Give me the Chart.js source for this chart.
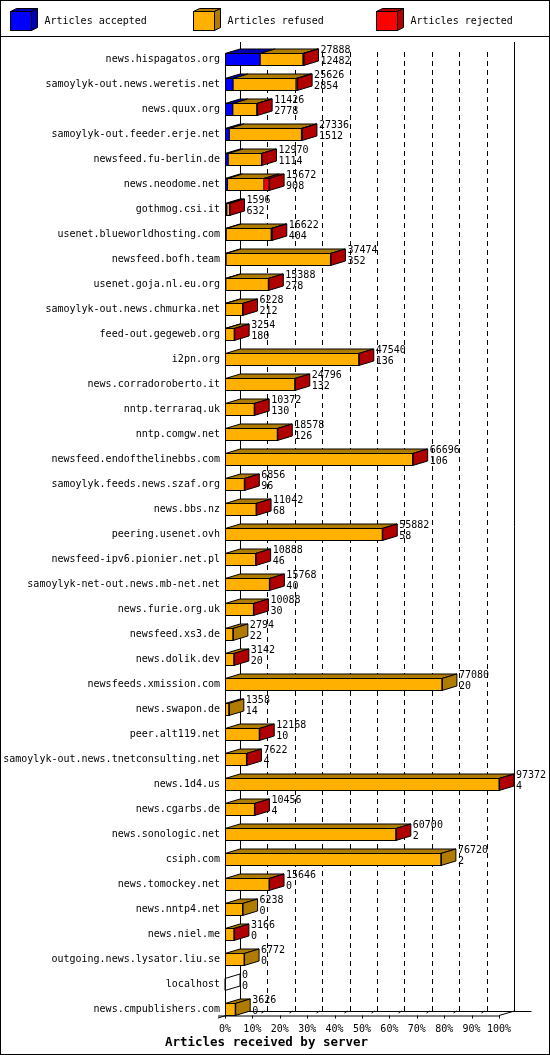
<!DOCTYPE html>
<html>
<head>
<meta charset="utf-8">
<title>Articles received by server</title>
<script src="https://cdn.jsdelivr.net/npm/chart.js@4/dist/chart.umd.min.js"></script>
<style>
  html, body { margin: 0; padding: 0; background: #fff; }
  canvas { display: block; }
</style>
</head>
<body>
<canvas id="chart" width="550" height="1055"></canvas>
<script>
// values; rejected is mostly too thin to see, so estimated
const servers = [
    'news.hispagatos.org', 'samoylyk-out.news.weretis.net', 'news.quux.org',
    'samoylyk-out.feeder.erje.net', 'newsfeed.fu-berlin.de', 'news.neodome.net',
    'gothmog.csi.it', 'usenet.blueworldhosting.com', 'newsfeed.bofh.team',
    'usenet.goja.nl.eu.org', 'samoylyk-out.news.chmurka.net', 'feed-out.gegeweb.org',
    'i2pn.org', 'news.corradoroberto.it', 'nntp.terraraq.uk', 'nntp.comgw.net',
    'newsfeed.endofthelinebbs.com', 'samoylyk.feeds.news.szaf.org', 'news.bbs.nz',
    'peering.usenet.ovh', 'newsfeed-ipv6.pionier.net.pl', 'samoylyk-net-out.news.mb-net.net',
    'news.furie.org.uk', 'newsfeed.xs3.de', 'news.dolik.dev', 'newsfeeds.xmission.com',
    'news.swapon.de', 'peer.alt119.net', 'samoylyk-out.news.tnetconsulting.net',
    'news.1d4.us', 'news.cgarbs.de', 'news.sonologic.net', 'csiph.com',
    'news.tomockey.net', 'news.nntp4.net', 'news.niel.me', 'outgoing.news.lysator.liu.se',
    'localhost', 'news.cmpublishers.com'
];
const accepted = [
    12482, 2854, 2778, 1512, 1114, 908, 632, 404, 352, 278, 212, 180, 136, 132, 130, 126,
    106, 96, 68, 58, 46, 40, 30, 22, 20, 20, 14, 10, 4, 4, 4, 2, 2, 0, 0, 0, 0, 0, 0
];
const refused = [
    15196, 22352, 8498, 25644, 11736, 12904, 904, 15978, 36982, 15020, 5956, 3034,
    47284, 24584, 10192, 18382, 66490, 6730, 10934, 55734, 10812, 15688, 10038, 2772,
    3092, 77060, 1344, 12138, 7608, 97308, 10432, 60668, 76718, 15626, 6238, 3156,
    6772, 0, 3626
];
const rejected = [
    210, 420, 150, 180, 120, 1860, 60, 240, 140, 90, 60, 40, 120, 80, 50, 70, 100, 30,
    40, 90, 30, 40, 20, 0, 30, 0, 0, 20, 10, 60, 20, 30, 0, 20, 0, 10, 0, 0, 0
];
const seriesNames = ['Articles accepted', 'Articles refused', 'Articles rejected'];
const frontColors = ['#0000ff', '#ffb000', '#ff0000'];
const darkColors = ['#0000b0', '#b07c00', '#b00000'];
const axisTitle = 'Articles received by server';

const series = [accepted, refused, rejected];
const totals = servers.map((s, i) => accepted[i] + refused[i] + rejected[i]);
const maxTotal = Math.max(...totals);

const DX = 15;      // depth of the 3d boxes
const DY = -4.5;
const MONO = '"DejaVu Sans Mono", "Liberation Mono", monospace';

function poly(ctx, pts, fill) {
    ctx.beginPath();
    ctx.moveTo(pts[0][0], pts[0][1]);
    for (let k = 1; k < pts.length; k++) ctx.lineTo(pts[k][0], pts[k][1]);
    ctx.closePath();
    if (fill) {
        ctx.fillStyle = fill;
        ctx.fill();
    }
    ctx.stroke();
}

function line(ctx, x1, y1, x2, y2) {
    ctx.beginPath();
    ctx.moveTo(x1, y1);
    ctx.lineTo(x2, y2);
    ctx.stroke();
}

const box3d = {
    id: 'box3d',
    beforeDraw(chart) {
        const ctx = chart.ctx;
        ctx.save();
        ctx.fillStyle = '#fff';
        ctx.fillRect(0, 0, chart.width, chart.height);
        ctx.restore();
    },
    beforeDatasetsDraw(chart) {
        // back wall, left wall and floor
        const { ctx, scales: { x, y } } = chart;
        const half = 6;
        const firstTop = y.getPixelForValue(0) - half;
        const floorF = y.getPixelForValue(servers.length - 1) + half;
        const floorB = floorF + DY;
        const wallTop = 42;
        const x0 = x.getPixelForValue(0);
        const x100 = x.getPixelForValue(maxTotal);

        ctx.save();
        ctx.strokeStyle = '#000';
        ctx.lineWidth = 1;

        ctx.setLineDash([5, 4]);
        for (let i = 1; i < 10; i++) {
            const xb = Math.round(x.getPixelForValue(maxTotal * i / 10) + DX) + 0.5;
            line(ctx, xb, wallTop + 10, xb, floorB);
        }
        ctx.setLineDash([]);

        const xb0 = Math.round(x0 + DX) + 0.5;
        const xb100 = Math.round(x100 + DX) + 0.5;
        line(ctx, xb0, wallTop, xb0, floorB);
        line(ctx, xb100, wallTop, xb100, floorB);
        line(ctx, Math.round(x0) + 0.5, firstTop, Math.round(x0) + 0.5, floorF);

        // floor
        line(ctx, x0 - 7, floorF + 0.5, x100, floorF + 0.5);
        line(ctx, xb0, floorB + 0.5, xb100 + 17, floorB + 0.5);
        line(ctx, x100, floorF, xb100, floorB);
        line(ctx, xb0, floorB, x0 - 7, floorF + 2.5);
        for (let i = 0; i <= 10; i++) {
            const xf = Math.round(x.getPixelForValue(maxTotal * i / 10)) + 0.5;
            line(ctx, xf, floorF, xf, floorF + 3);
            if (i > 0 && i < 10) {
                line(ctx, xf + DX - 6, floorB + 2, xf + DX - 3, floorB);
            }
        }
        ctx.restore();
    },
    afterDatasetsDraw(chart) {
        const { ctx } = chart;
        const metas = chart.data.datasets.map((d, i) => chart.getDatasetMeta(i));
        ctx.save();
        ctx.strokeStyle = '#000';
        ctx.lineWidth = 1;
        ctx.font = '10px ' + MONO;
        ctx.textBaseline = 'middle';
        ctx.textAlign = 'left';

        servers.forEach((name, j) => {
            const segs = metas.map(m => {
                const el = m.data[j];
                return {
                    left: Math.min(el.base, el.x),
                    right: Math.max(el.base, el.x),
                    cy: el.y,
                    h: el.height
                };
            });
            const cy = segs[0].cy;
            const top = cy - segs[0].h / 2;
            const bot = cy + segs[0].h / 2;
            const xs = segs[0].left;
            const xe = Math.max(...segs.map(s => s.right));

            // the end cap takes the colour of the last series with a value
            let last = -1;
            series.forEach((values, i) => { if (values[j] > 0) last = i; });

            segs.forEach((s, i) => {
                if (s.right - s.left < 0.4) return;
                poly(ctx, [[s.left, top], [s.right, top], [s.right + DX, top + DY], [s.left + DX, top + DY]], darkColors[i]);
            });
            poly(ctx, [[xe, top], [xe + DX, top + DY], [xe + DX, bot + DY], [xe, bot]],
                last >= 0 ? darkColors[last] : null);

            ctx.strokeRect(Math.round(xs) + 0.5, top, Math.max(0, xe - xs), bot - top);
            segs.forEach((s, i) => {
                if (i > 0 && s.right - s.left >= 0.4 && s.left > xs + 0.5) {
                    line(ctx, s.left, top, s.left, bot);
                }
            });

            ctx.fillStyle = '#000';
            ctx.fillText(String(totals[j]), xe + DX + 2, cy - 9);
            ctx.fillText(String(accepted[j]), xe + DX + 2, cy + 2);
        });
        ctx.restore();
    },
    afterDraw(chart) {
        const { ctx } = chart;
        ctx.save();
        ctx.strokeStyle = '#000';
        ctx.lineWidth = 1;

        // legend
        const legendX = [10.5, 193.5, 376.5];
        seriesNames.forEach((label, k) => {
            const bx = legendX[k];
            const by = 11.5;
            ctx.fillStyle = frontColors[k];
            ctx.fillRect(bx, by, 21, 19);
            ctx.strokeRect(bx, by, 21, 19);
            poly(ctx, [[bx, by], [bx + 6, by - 3], [bx + 27, by - 3], [bx + 21, by]], darkColors[k]);
            poly(ctx, [[bx + 21, by], [bx + 27, by - 3], [bx + 27, by + 16], [bx + 21, by + 19]], darkColors[k]);
            ctx.fillStyle = '#000';
            ctx.font = '10px ' + MONO;
            ctx.textBaseline = 'middle';
            ctx.textAlign = 'left';
            ctx.fillText(label, bx + 34, 21);
        });
        line(ctx, 0, 36.5, chart.width, 36.5);

        // axis title
        ctx.fillStyle = '#000';
        ctx.font = 'bold 12.5px ' + MONO;
        ctx.textAlign = 'center';
        ctx.textBaseline = 'middle';
        ctx.fillText(axisTitle, 266.5, 1043);

        ctx.strokeRect(0.5, 0.5, chart.width - 1, chart.height - 1);
        ctx.restore();
    }
};

const datasets = series.map((values, i) => ({
    label: seriesNames[i],
    data: values,
    backgroundColor: frontColors[i],
    borderWidth: 0,
    barThickness: 12
}));

new Chart(document.getElementById('chart'), {
    type: 'bar',
    data: { labels: servers, datasets },
    options: {
        indexAxis: 'y',
        responsive: false,
        animation: false,
        events: [],
        layout: { padding: { top: 47, right: 51, bottom: 0, left: 0 } },
        plugins: {
            legend: { display: false },
            tooltip: { enabled: false }
        },
        scales: {
            x: {
                stacked: true,
                min: 0,
                max: maxTotal,
                grid: { display: false, drawTicks: false },
                border: { display: false },
                afterBuildTicks: (scale) => {
                    scale.ticks = [0, 1, 2, 3, 4, 5, 6, 7, 8, 9, 10].map(i => ({ value: maxTotal * i / 10 }));
                },
                afterFit: (scale) => { scale.height = 33; },
                ticks: {
                    autoSkip: false,
                    maxRotation: 0,
                    padding: 1,
                    color: '#000',
                    font: { family: MONO, size: 10 },
                    callback: (v) => Math.round(v / maxTotal * 100) + '%'
                }
            },
            y: {
                stacked: true,
                grid: { display: false, drawTicks: false },
                border: { display: false },
                afterFit: (scale) => { scale.width = 225; },
                ticks: {
                    autoSkip: false,
                    padding: 5,
                    color: '#000',
                    font: { family: MONO, size: 10 }
                }
            }
        }
    },
    plugins: [box3d]
});
</script>
</body>
</html>
